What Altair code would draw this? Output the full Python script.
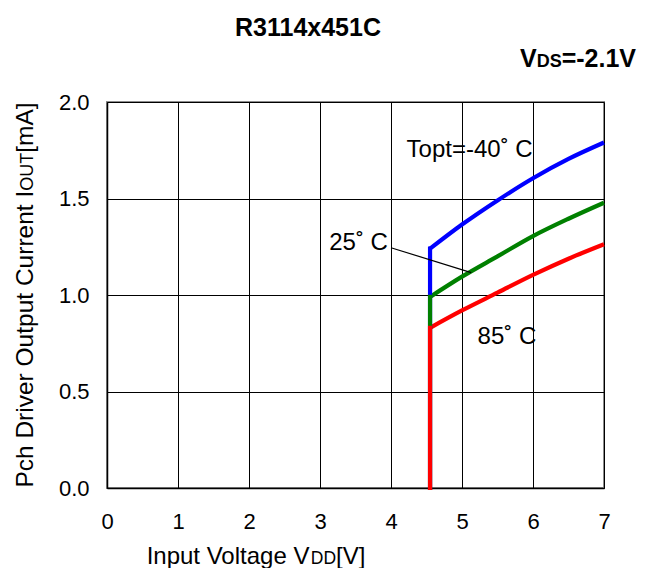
import altair as alt
import pandas as pd

# Data
vdd = [4.55, 4.55, 5.0, 5.5, 6.0, 6.5, 7.0]
iout_m40 = [0.0, 1.24, 1.365, 1.49, 1.605, 1.705, 1.79]
iout_25 = [0.0, 0.99, 1.095, 1.20, 1.305, 1.395, 1.478]
iout_85 = [0.0, 0.83, 0.92, 1.012, 1.104, 1.188, 1.263]
series = ["-40", "25", "85"]
colors = ["#0000ff", "#008000", "#ff0000"]

ann_x = [4.22, 3.13, 5.22]
ann_y = [1.75, 1.27, 0.78]
ann_text = ["Topt=-40˚ C", "25˚ C", "85˚ C"]

title_text = "R3114x451C"
xtitle_parts = ["Input Voltage V", "DD", "[V]"]
ytitle_parts = ["Pch Driver Output Current I", "OUT", "[mA]"]
vds_parts = ["V", "DS", "=-2.1V"]

rows = []
for s, vals in zip(series, [iout_m40, iout_25, iout_85]):
    for i, (x, y) in enumerate(zip(vdd, vals)):
        # first two points: vertical rise; from the second point on: the curve
        if i <= 1:
            rows.append({"series": s, "vdd": x, "iout": y, "ord": i, "part": "rise"})
        if i >= 1:
            rows.append({"series": s, "vdd": x, "iout": y, "ord": i, "part": "curve"})
df = pd.DataFrame(rows)

labels_df = pd.DataFrame({"x": ann_x, "y": ann_y, "t": ann_text})
leader_df = pd.DataFrame({"x": [4.0], "y": [1.245], "x2": [5.13], "y2": [1.116]})

FONT = "Liberation Sans"
W, H = 497, 386

# approximate Arial advance widths (em) for laying out mixed-size titles
AW = {" ": .278, "I": .278, "n": .556, "p": .556, "u": .556, "t": .278,
      "V": .667, "o": .556, "l": .222, "a": .556, "g": .556, "e": .556,
      "D": .722, "[": .278, "]": .278, "P": .667, "c": .5, "h": .556,
      "r": .333, "i": .222, "v": .5, "O": .778, "C": .722, "U": .722,
      "T": .611, "m": .833, "A": .667}
BW = {"V": .667, "D": .722, "S": .667, "=": .584, "-": .333, "2": .556,
      ".": .278, "1": .556}


def tw(s, size, table):
    return sum(table.get(ch, .556) for ch in s) * size


def pieces(parts, sizes, table, start):
    out, pos = [], start
    for p, sz in zip(parts, sizes):
        out.append((p, sz, pos))
        pos += tw(p, sz, table)
    return out


xs_sizes = [24, 17.5, 24]
xtot = sum(tw(p, s, AW) for p, s in zip(xtitle_parts, xs_sizes))
xt = pieces(xtitle_parts, xs_sizes, AW, 149 - xtot / 2)
xt_df = pd.DataFrame({"t": [p[0] for p in xt], "s": [p[1] for p in xt],
                      "px": [p[2] for p in xt]})

ys_sizes = [24.5, 18, 24.5]
ytot = sum(tw(p, s, AW) for p, s in zip(ytitle_parts, ys_sizes))
yt = pieces(ytitle_parts, ys_sizes, AW, 0)
yt_df = pd.DataFrame({"t": [p[0] for p in yt], "s": [p[1] for p in yt],
                      "py": [H / 2 + ytot / 2 - p[2] for p in yt]})

v_sizes = [25, 18, 25]
vtot = sum(tw(p, s, BW) for p, s in zip(vds_parts, v_sizes))
vt = pieces(vds_parts, v_sizes, BW, 529 - vtot)
vt_df = pd.DataFrame({"t": [p[0] for p in vt], "s": [p[1] for p in vt],
                      "px": [p[2] for p in vt]})

xsc = alt.Scale(domain=[0, 7], nice=False)
ysc = alt.Scale(domain=[0, 2], nice=False)
cscale = alt.Scale(domain=series, range=colors)

base = alt.Chart(df).encode(
    x=alt.X("vdd:Q", scale=xsc,
            axis=alt.Axis(title=None, values=list(range(8)),
                          format="d", ticks=False, labelPadding=23,
                          labelFlush=False, grid=True)),
    y=alt.Y("iout:Q", scale=ysc,
            axis=alt.Axis(title=None,
                          values=[0, 0.5, 1.0, 1.5, 2.0], format=".1f",
                          ticks=False, labelPadding=18, labelFlush=False,
                          grid=True)),
    color=alt.Color("series:N", scale=cscale, legend=None),
    order=alt.Order("ord:Q"),
    detail="series:N",
)

curves = base.transform_filter(alt.datum.part == "curve").mark_line(
    strokeWidth=4.2, interpolate="monotone", strokeCap="butt")
rises = base.transform_filter(alt.datum.part == "rise").mark_line(
    strokeWidth=4.2, strokeCap="square")

texts = alt.Chart(labels_df).mark_text(
    align="left", baseline="middle", fontSize=24, font=FONT, color="black"
).encode(x=alt.X("x:Q", scale=xsc), y=alt.Y("y:Q", scale=ysc), text="t:N")

leader = alt.Chart(leader_df).mark_rule(color="black", strokeWidth=1.2).encode(
    x=alt.X("x:Q", scale=xsc), y=alt.Y("y:Q", scale=ysc), x2="x2:Q", y2="y2:Q"
)

xtitle = alt.Chart(xt_df).mark_text(
    align="left", baseline="alphabetic", font=FONT, color="black"
).encode(x=alt.X("px:Q", scale=None), y=alt.value(H + 76), text="t:N",
         size=alt.Size("s:Q", scale=None, legend=None))

ytitle = alt.Chart(yt_df).mark_text(
    align="left", baseline="alphabetic", font=FONT, color="black", angle=270
).encode(x=alt.value(-74), y=alt.Y("py:Q", scale=None), text="t:N",
         size=alt.Size("s:Q", scale=None, legend=None))

vds = alt.Chart(vt_df).mark_text(
    align="left", baseline="alphabetic", font=FONT, fontWeight="bold",
    color="black"
).encode(x=alt.X("px:Q", scale=None), y=alt.value(-35), text="t:N",
         size=alt.Size("s:Q", scale=None, legend=None))

title_df = pd.DataFrame({"t": [title_text]})
title = alt.Chart(title_df).mark_text(
    fontSize=25, fontWeight="bold", font=FONT, align="center",
    baseline="alphabetic"
).encode(x=alt.value(201), y=alt.value(-66), text="t:N")

chart = alt.layer(curves, rises, leader, texts, xtitle, ytitle, vds, title).properties(
    width=W, height=H,
    autosize=alt.AutoSizeParams(type="none"),
    padding={"left": 99, "top": 94, "right": 33, "bottom": 80},
).configure_view(
    stroke="#8c8c8c", strokeWidth=2
).configure_axis(
    gridColor="black", gridOpacity=1, gridWidth=1,
    domainColor="black", domainWidth=1.5,
    labelFont=FONT, labelFontSize=22, labelColor="black",
)

chart.save("out.html", embed_options={"renderer": "svg", "actions": False})
